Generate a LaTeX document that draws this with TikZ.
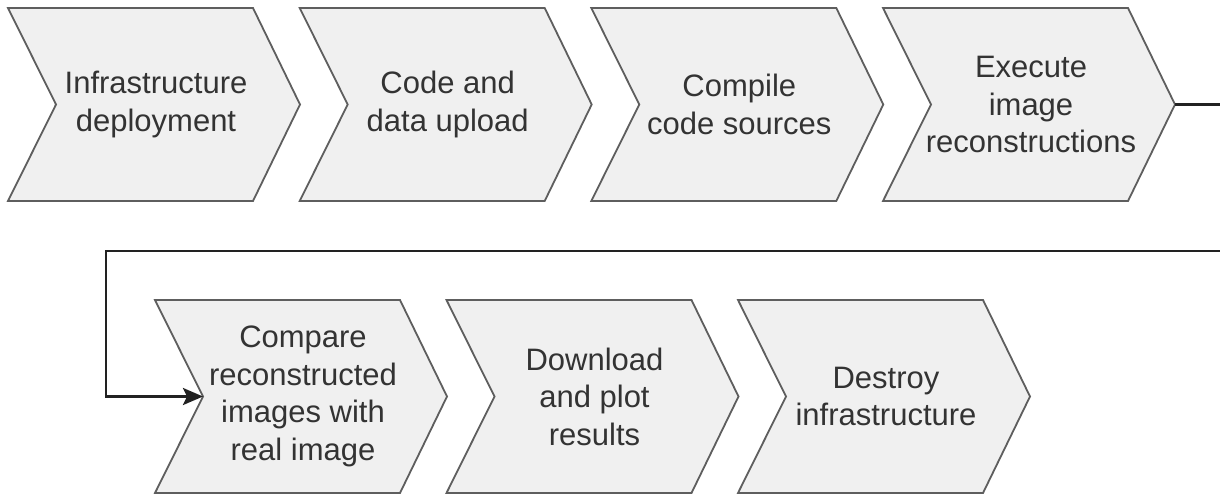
\documentclass[tikz,border=0pt]{standalone}
\usepackage{fontspec}
\setmainfont{Liberation Sans}
\usetikzlibrary{arrows.meta,calc}
\definecolor{chevfill}{HTML}{F0F0F0}
\definecolor{chevdraw}{HTML}{5E5E5E}
\definecolor{txt}{HTML}{333333}
\definecolor{connc}{HTML}{222222}
\tikzset{
  chevbox/.style={fill=chevfill, draw=chevdraw, line width=1.8pt, line join=miter},
  chevtext/.style={align=center, text=txt, font=\fontsize{31}{37.5}\selectfont, inner sep=0pt},
  conn/.style={draw=connc, line width=2.7pt, -{Stealth[length=20pt,width=17pt,inset=4pt]}}
}
% #1 name, #2 left x, #3 top y, #4 bottom y, #5 text
\newcommand{\mychev}[5]{%
  \path[chevbox] (#2,#3) -- ++(245,0) -- ($(#2+292,{(#3+#4)/2})$) -- (#2+245,#4) -- (#2,#4) -- ($(#2+48,{(#3+#4)/2})$) -- cycle;
  \node[chevtext] (#1) at (#2+148,{(#3+#4)/2}) {#5};
  \coordinate (#1-tip) at (#2+292,{(#3+#4)/2});
  \coordinate (#1-notch) at (#2+48,{(#3+#4)/2});
}
\begin{document}
\begin{tikzpicture}[x=1pt,y=-1pt]
\useasboundingbox (0,0) rectangle (1220,497);
\clip (0,0) rectangle (1220,497);
\mychev{c1}{8}{8}{201}{Infrastructure\\deployment}
\mychev{c2}{299.7}{8}{201}{Code and\\data upload}
\mychev{c3}{591.3}{8}{201}{Compile\\code sources}
\mychev{c4}{883}{8}{201}{Execute\\image\\reconstructions}
\mychev{c5}{155}{300}{493}{Compare\\reconstructed\\images with\\real image}
\mychev{c6}{446.5}{300}{493}{Download\\and plot\\results}
\mychev{c7}{738}{300}{493}{Destroy\\infrastructure}
\coordinate (r1) at (1223,104.5);
\coordinate (r2) at (1223,251);
\coordinate (l1) at (106,251);
\coordinate (l2) at (106,396.5);
\draw[conn, line join=miter] (c4-tip) -- (r1) -- (r2) -- (l1) -- (l2) -- (c5-notch);
\end{tikzpicture}
\end{document}
